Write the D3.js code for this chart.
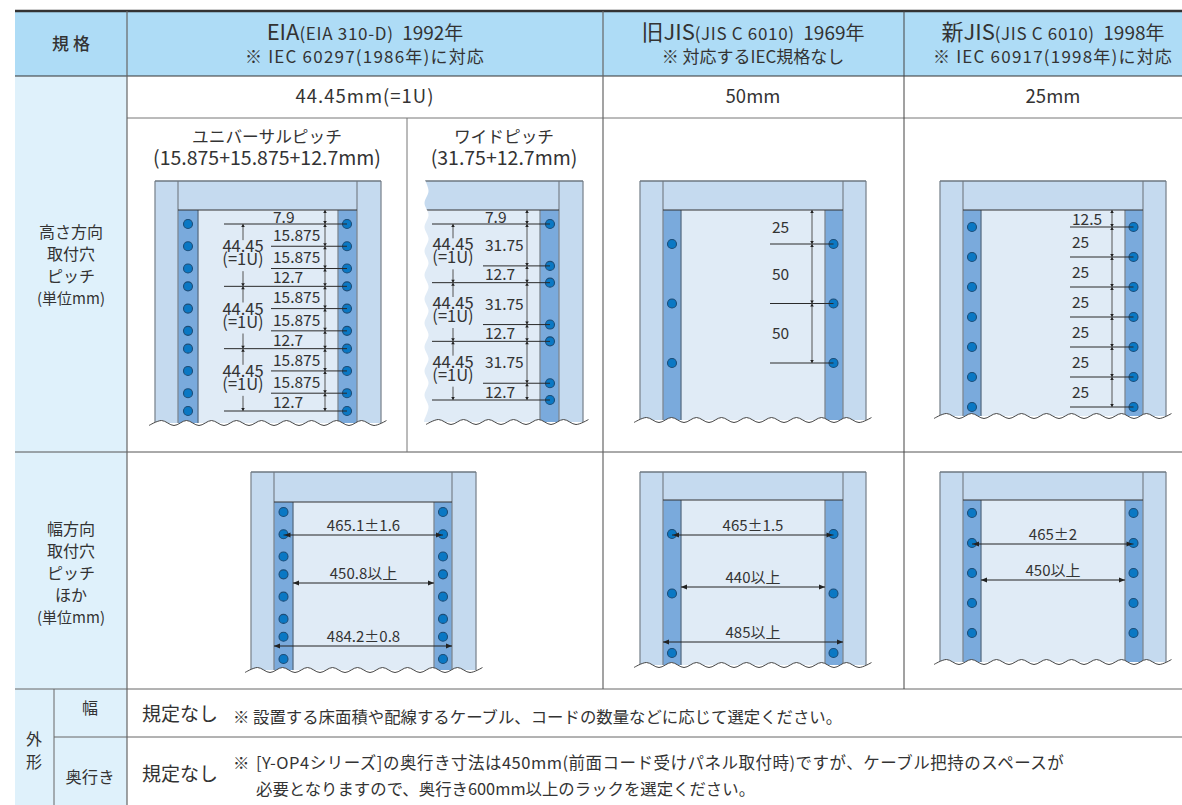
<!DOCTYPE html>
<html>
<head>
<meta charset="utf-8">
<style>
body { margin: 0; background: #fff; }
svg { display: block; }
text { font-family: "Noto Sans CJK JP", "Noto Sans", sans-serif; fill: #333; white-space: pre; }
</style>
<script src="https://cdn.jsdelivr.net/npm/d3@7"></script>
</head>
<body>
<script>
// table text
var headNames = ["EIA", "旧JIS", "新JIS"];
var headSpecs = ["(EIA 310-D)", "(JIS C 6010)", "(JIS C 6010)"];
var headYears = ["1992年", "1969年", "1998年"];
var headNotes = ["※ IEC 60297(1986年)に対応", "※ 対応するIEC規格なし", "※ IEC 60917(1998年)に対応"];
var pitchTitles = ["44.45mm(=1U)", "50mm", "25mm"];
var subTitles = ["ユニバーサルピッチ", "ワイドピッチ"];
var subFormulas = ["(15.875+15.875+12.7mm)", "(31.75+12.7mm)"];
var heightLabels = ["高さ方向", "取付穴", "ピッチ", "(単位mm)"];
var widthLabels = ["幅方向", "取付穴", "ピッチ", "ほか", "(単位mm)"];
var outerNote1 = "※ 設置する床面積や配線するケーブル、コードの数量などに応じて選定ください。";
var outerNote2 = ["※", "[Y-OP4シリーズ]の奥行き寸法は450mm(前面コード受けパネル取付時)ですが、ケーブル把持のスペースが", "必要となりますので、奥行き600mm以上のラックを選定ください。"];

// hole pitches in mm, first value is the distance from the top beam
var universalPitch = [7.9, 15.875, 15.875, 12.7, 15.875, 15.875, 12.7, 15.875, 15.875, 12.7];
var widePitch = [7.9, 31.75, 12.7, 31.75, 12.7, 31.75, 12.7];
var oldJisPitch = [25, 50, 50];
var newJisPitch = [12.5, 25, 25, 25, 25, 25, 25];
var universalLower = [8, 15.875, 15.875, 12.7, 15.875, 15.875, 12.7, 15.875];
var oldJisLower = [25, 50, 50];
var newJisLower = [12.5, 25, 25, 25, 25];
var unitLabel = ["44.45", "(=1U)"];

// width dimensions: label and what it spans
var widthDimsEia = ["465.1±1.6", "450.8以上", "484.2±0.8"];
var widthDimsOld = ["465±1.5", "440以上", "485以上"];
var widthDimsNew = ["465±2", "450以上"];
var widthSpans = ["hole", "inner", "outer"];

var width = 1182, height = 805;

var svg = d3.select("body").append("svg")
    .attr("width", width)
    .attr("height", height);

var cellMid = [365, 753, 1053];

// ---- table background and rules
svg.append("rect").attr("x", 15).attr("y", 11).attr("width", width - 15).attr("height", 65).attr("fill", "#aedcf6");
svg.append("rect").attr("x", 15).attr("y", 76).attr("width", 112).attr("height", 729).attr("fill", "#dff1fb");

function rule(x1, y1, x2, y2, color, w) {
    svg.append("line").attr("x1", x1).attr("y1", y1).attr("x2", x2).attr("y2", y2)
        .attr("stroke", color).attr("stroke-width", w || 1);
}

// ---- rack drawing
var wave = d3.line().curve(d3.curveCardinal);

function holeYs(pitch, yFirst, yLast) {
    var cum = Array.from(d3.cumsum(pitch));
    var y = d3.scaleLinear().domain([cum[0], cum[cum.length - 1]]).range([yFirst, yLast]);
    return cum.map(y);
}

function arrowV(g, x, y, dir, s) {
    s = s || 3;
    g.append("path").attr("fill", "#222")
        .attr("d", "M" + [x, y] + "l" + [-s * 0.6, -dir * s] + "l" + [s * 1.2, 0] + "z");
}

function arrowH(g, x, y, dir) {
    g.append("path").attr("fill", "#222")
        .attr("d", "M" + [x, y] + "l" + [-dir * 6, -2.5] + "l" + [0, 5] + "z");
}

function drawRack(r, ys) {
    var g = svg.append("g");
    var left = r.cut ? r.cut : r.x0;
    g.append("rect").attr("x", left).attr("y", r.top).attr("width", r.x1 - left).attr("height", r.wave - r.top)
        .attr("fill", "#c5daef");
    g.append("rect").attr("x", r.cut ? left : r.railL[0]).attr("y", r.beam)
        .attr("width", r.railR[0] - (r.cut ? left : r.railL[0])).attr("height", r.wave - r.beam)
        .attr("fill", "#e0ebf6");

    var rails = r.cut ? [r.railR] : [r.railL, r.railR];
    g.selectAll(".rail").data(rails).enter().append("rect")
        .attr("x", function(d) { return d[0]; })
        .attr("y", r.beam)
        .attr("width", function(d) { return d[1] - d[0]; })
        .attr("height", r.wave - r.beam)
        .attr("fill", "#7aaadc");

    // frame lines
    var gray = "#7d8791";
    if (!r.cut) {
        g.append("line").attr("x1", r.x0).attr("x2", r.x0).attr("y1", r.top).attr("y2", r.wave).attr("stroke", gray).attr("stroke-width", 1.3);
        g.append("line").attr("x1", r.railL[0]).attr("x2", r.railL[0]).attr("y1", r.top).attr("y2", r.wave).attr("stroke", gray).attr("stroke-width", 1.3);
        g.append("line").attr("x1", r.railL[1]).attr("x2", r.railL[1]).attr("y1", r.beam).attr("y2", r.wave).attr("stroke", "#596f85").attr("stroke-width", 1.3);
    }
    g.append("line").attr("x1", r.railR[0]).attr("x2", r.railR[0]).attr("y1", r.beam).attr("y2", r.wave).attr("stroke", gray).attr("stroke-width", 1.3);
    g.append("line").attr("x1", r.railR[1]).attr("x2", r.railR[1]).attr("y1", r.top).attr("y2", r.wave).attr("stroke", gray).attr("stroke-width", 1.3);
    g.append("line").attr("x1", r.x1).attr("x2", r.x1).attr("y1", r.top).attr("y2", r.wave).attr("stroke", gray).attr("stroke-width", 1.3);
    g.append("line").attr("x1", left).attr("x2", r.x1).attr("y1", r.top).attr("y2", r.top).attr("stroke", "#6d7780").attr("stroke-width", 1.3);
    g.append("line").attr("x1", r.cut ? left : r.railL[0]).attr("x2", r.railR[1]).attr("y1", r.beam).attr("y2", r.beam).attr("stroke", "#333").attr("stroke-width", 1);

    // holes
    var sides = r.cut ? [r.holeR] : [r.holeL, r.holeR];
    sides.forEach(function(hx) {
        g.selectAll(null).data(ys).enter().append("circle")
            .attr("cx", hx).attr("cy", function(d) { return d; }).attr("r", 4.5)
            .attr("fill", "#0a78c4").attr("stroke", "#1c4d78").attr("stroke-width", 1.1);
    });

    // torn bottom edge
    var x0 = r.cut ? left + 2 : left - 6;
    var pts = d3.range(x0, r.x1 + 7, 12.5).map(function(x, i) {
        return [x, r.wave + (i % 2 ? -2.5 : 2.5)];
    });
    var xEnd = pts[pts.length - 1][0];
    g.append("path").attr("fill", "#fff")
        .attr("d", wave(pts) + "L" + [xEnd, r.wave + 12] + "L" + [x0, r.wave + 12] + "Z");
    g.append("path").attr("fill", "none").attr("stroke", "#444").attr("stroke-width", 1).attr("d", wave(pts));

    // torn left edge on the cut panel
    if (r.cut) {
        var vp = d3.range(r.top - 2, r.wave + 3, 12).map(function(y, i) {
            return [left + (i % 2 ? 4.5 : 0.5), y];
        });
        g.append("path").attr("fill", "#fff").attr("d", wave(vp) + "L" + [left - 1, r.wave + 3] + "L" + [left - 1, r.top - 2] + "Z");
    }
    return g;
}

function drawPitch(g, r, pitch, ys, o) {
    var hx = r.holeR;
    // leader lines from holes
    g.selectAll(null).data(ys).enter().append("line")
        .attr("x1", function(d, i) { return o.major && i % o.major == 0 ? o.majorX : o.minorX; })
        .attr("x2", hx).attr("y1", function(d) { return d; }).attr("y2", function(d) { return d; })
        .attr("stroke", "#2a2a2a").attr("stroke-width", 1);
    // dimension line
    g.append("line").attr("x1", o.dimX).attr("x2", o.dimX).attr("y1", r.beam).attr("y2", ys[ys.length - 1])
        .attr("stroke", "#555").attr("stroke-width", 1);
    var stops = [r.beam].concat(ys);
    stops.forEach(function(y, i) {
        if (i > 0) arrowV(g, o.dimX, y, 1);
        if (i < stops.length - 1) arrowV(g, o.dimX, y, -1);
    });
    // pitch values
    g.selectAll(null).data(pitch).enter().append("text")
        .attr("x", o.minorX + 2)
        .attr("y", function(d, i) { return (stops[i] + stops[i + 1]) / 2 + 6; })
        .attr("font-size", 15.5)
        .text(function(d) { return d; });
    // unit labels
    if (o.major) {
        for (var i = 0; i + o.major < ys.length; i += o.major) {
            var a = ys[i], b = ys[i + o.major], m = (a + b) / 2;
            g.selectAll(null).data(unitLabel).enter().append("text")
                .attr("x", o.unitX).attr("y", function(d, k) { return m - 3 + k * 13; })
                .attr("text-anchor", "middle").attr("font-size", 16.5)
                .text(function(d) { return d; });
            g.append("line").attr("x1", o.unitX).attr("x2", o.unitX).attr("y1", a).attr("y2", m - 15).attr("stroke", "#555");
            g.append("line").attr("x1", o.unitX).attr("x2", o.unitX).attr("y1", m + 16).attr("y2", b).attr("stroke", "#555");
            arrowV(g, o.unitX, a, -1);
            arrowV(g, o.unitX, b, 1);
        }
    }
}

function drawWidths(g, r, labels, dimYs) {
    var spanX = {
        hole: [r.holeL, r.holeR],
        inner: [r.railL[1], r.railR[0]],
        outer: [r.railL[0], r.railR[1]]
    };
    labels.forEach(function(label, i) {
        var s = spanX[widthSpans[i]], y = dimYs[i];
        g.append("line").attr("x1", s[0]).attr("x2", s[1]).attr("y1", y).attr("y2", y).attr("stroke", "#222");
        arrowH(g, s[0] + (widthSpans[i] == "hole" ? 1 : 0), y, -1);
        arrowH(g, s[1] - (widthSpans[i] == "hole" ? 1 : 0), y, 1);
        g.append("text").attr("x", (r.railL[1] + r.railR[0]) / 2).attr("y", y - 4)
            .attr("text-anchor", "middle").attr("font-size", 15).text(label);
    });
}

function rack(x0) {
    return {
        x0: x0, x1: x0 + 226,
        railL: [x0 + 23, x0 + 41], railR: [x0 + 185, x0 + 203],
        holeL: x0 + 32, holeR: x0 + 193.5,
        top: 181, beam: 210, wave: 420
    };
}

var rackUni = {x0: 155, x1: 381, railL: [178, 198], railR: [338, 357], holeL: 188, holeR: 347, top: 181, beam: 210, wave: 423};
var rackWide = {cut: 424, x0: 424, x1: 583, railL: [530, 531], railR: [540, 559], holeR: 550, top: 181, beam: 210, wave: 422};
var rackOld = rack(640);
var rackNew = rack(940);
rackNew.wave = 416;

drawPitch(drawRack(rackUni, holeYs(universalPitch, 224, 411)), rackUni, universalPitch, holeYs(universalPitch, 224, 411),
    {major: 3, majorX: 224, minorX: 271, dimX: 325, unitX: 243});
drawPitch(drawRack(rackWide, holeYs(widePitch, 224, 400)), rackWide, widePitch, holeYs(widePitch, 224, 400),
    {major: 2, majorX: 432, minorX: 483, dimX: 527, unitX: 453});
drawPitch(drawRack(rackOld, holeYs(oldJisPitch, 244, 363)), rackOld, oldJisPitch, holeYs(oldJisPitch, 244, 363),
    {minorX: 770, dimX: 812});
drawPitch(drawRack(rackNew, holeYs(newJisPitch, 227, 407)), rackNew, newJisPitch, holeYs(newJisPitch, 227, 407),
    {minorX: 1070, dimX: 1112});

var lowerUni = {x0: 251, x1: 476, railL: [274, 293], railR: [434, 452], holeL: 283.5, holeR: 443, top: 472, beam: 502, wave: 670};
var lowerOld = Object.assign(rack(640), {top: 472, beam: 500, wave: 665});
var lowerNew = Object.assign(rack(940), {top: 472, beam: 500, wave: 662});

drawWidths(drawRack(lowerUni, holeYs(universalLower, 512, 659)), lowerUni, widthDimsEia, [535, 583, 646]);
drawWidths(drawRack(lowerOld, holeYs(oldJisLower, 534, 653)), lowerOld, widthDimsOld, [535, 587, 642]);
drawWidths(drawRack(lowerNew, holeYs(newJisLower, 513, 633)), lowerNew, widthDimsNew, [544, 580]);

// ---- rules on top of panels
rule(15, 11, width, 11, "#333", 2.5);
rule(15, 76, width, 76, "#333", 1);
rule(127, 118, width, 118, "#777", 1);
rule(15, 452, width, 452, "#555", 1);
rule(15, 689, width, 689, "#666", 1);
rule(54, 737, width, 737, "#666", 1);
rule(127, 11, 127, height, "#666", 1.2);
rule(603, 11, 603, 689, "#666", 1.2);
rule(904, 11, 904, 689, "#444", 1);
rule(407, 118, 407, 452, "#777", 1);
rule(54, 689, 54, height, "#666", 1);

// ---- table text
function label(x, y, size, txt, anchor) {
    return svg.append("text").attr("x", x).attr("y", y).attr("font-size", size)
        .attr("text-anchor", anchor || "middle").text(txt);
}

label(71, 50, 17, "規 格").attr("font-weight", 500);

headNames.forEach(function(name, i) {
    var h = svg.append("text").attr("x", cellMid[i]).attr("y", 40).attr("text-anchor", "middle");
    h.append("tspan").attr("font-size", 22).text(name);
    h.append("tspan").attr("font-size", 17).attr("letter-spacing", 0.7).text(headSpecs[i]);
    h.append("tspan").attr("font-size", 19).text("  " + headYears[i]);
    label(cellMid[i], 63, 17, headNotes[i]).attr("letter-spacing", i == 1 ? 0 : 1.2);
    label(cellMid[i], 103, 18.5, pitchTitles[i]).attr("letter-spacing", i == 0 ? 1 : 0);
});

subTitles.forEach(function(t, i) {
    var mid = [267, 504][i];
    label(mid, 143, 16.7, t);
    label(mid, 165, 19.5, subFormulas[i]);
});

heightLabels.forEach(function(d, i) {
    label(71, 238 + i * 22, i == 3 ? 15 : 16, d);
});
widthLabels.forEach(function(d, i) {
    label(71, 535 + i * 22, i == 4 ? 15 : 16, d);
});

label(34, 745, 16, "外");
label(34, 768, 16, "形");
label(90, 714, 16, "幅");
label(90, 783, 16.3, "奥行き");
label(142, 721, 19, "規定なし", "start");
label(142, 781, 19, "規定なし", "start");
label(233, 723, 16.4, outerNote1, "start");
label(233, 769, 16.4, outerNote2[0], "start");
label(256, 769, 16.5, outerNote2[1], "start").attr("letter-spacing", 0.5);
label(256, 795, 16.4, outerNote2[2], "start");
</script>
</body>
</html>
